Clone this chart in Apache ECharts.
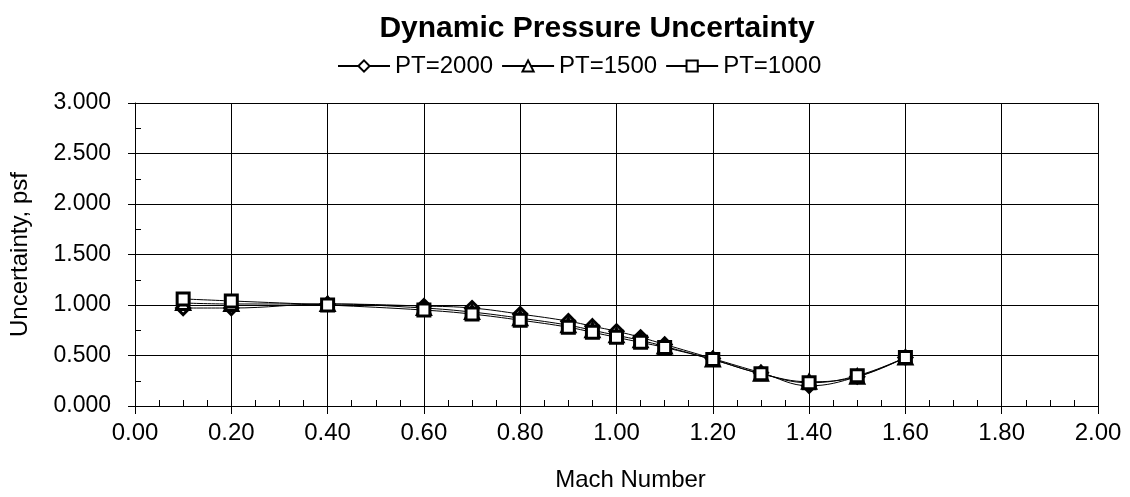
<!DOCTYPE html>
<html lang="en">

<head>
    <meta charset="UTF-8">
    <title>Dynamic Pressure Uncertainty</title>
    <script src="https://cdn.jsdelivr.net/npm/echarts@6/dist/echarts.min.js"></script>
    <style type="text/css">
        html, body { margin: 0; padding: 0; background: #fff; }
        #main { width: 1130px; height: 497px; }
    </style>
</head>

<body>
    <div id="main"></div>
    <script type="text/javascript">
    // Mach numbers tested
    var mach = [0.1, 0.2, 0.4, 0.6, 0.7, 0.8, 0.9, 0.95, 1.0, 1.05, 1.1, 1.2, 1.3, 1.4, 1.5, 1.6];
    // uncertainty, psf, per total pressure
    var pt2000 = [0.97, 0.97, 1.01, 0.99, 0.97, 0.91, 0.84, 0.79, 0.74, 0.68, 0.61, 0.47, 0.33, 0.20, 0.29, 0.48];
    var pt1500 = [1.02, 1.01, 1.01, 0.97, 0.93, 0.87, 0.80, 0.75, 0.70, 0.65, 0.59, 0.46, 0.32, 0.24, 0.29, 0.48];
    var pt1000 = [1.06, 1.04, 1.00, 0.95, 0.91, 0.85, 0.78, 0.73, 0.68, 0.63, 0.58, 0.46, 0.32, 0.23, 0.30, 0.48];
    var seriesNames = ['PT=2000', 'PT=1500', 'PT=1000'];
    var seriesSymbols = ['diamond', 'triangle', 'rect'];

    var font = 'Liberation Sans, Arial, sans-serif';

    function pairs(ys) {
        var out = [];
        for (var i = 0; i < mach.length; i++) {
            out.push([mach[i], ys[i]]);
        }
        return out;
    }

    function makeSeries(name, ys, symbol) {
        return {
            name: name,
            type: 'line',
            xAxisIndex: 0,
            yAxisIndex: 0,
            data: pairs(ys),
            smooth: 0.4,
            symbol: symbol,
            symbolSize: symbol == 'rect' ? 12 : 13,
            color: '#000',
            lineStyle: { color: '#000', width: 1 },
            itemStyle: { color: '#fff', borderColor: '#000', borderWidth: 3 }
        };
    }

    var myChart = echarts.init(document.getElementById('main'));

    var option = {
        backgroundColor: '#fff',
        animation: false,
        title: {
            text: 'Dynamic Pressure Uncertainty',
            left: 592,
            top: 9,
            textAlign: 'center',
            textStyle: { fontFamily: font, fontSize: 30, fontWeight: 'bold', color: '#000' }
        },
        legend: {
            data: seriesNames,
            left: 332,
            top: 49,
            itemWidth: 52,
            itemHeight: 14,
            itemGap: 8,
            textStyle: { fontFamily: font, fontSize: 24, color: '#000' }
        },
        grid: { left: 135, right: 32, top: 103, bottom: 89, containLabel: false },
        xAxis: [{
            type: 'value',
            min: 0,
            max: 2,
            interval: 0.2,
            name: 'Mach Number',
            nameLocation: 'middle',
            nameGap: 62,
            nameTextStyle: { fontFamily: font, fontSize: 24, color: '#000', padding: [0, 0, 0, 28] },
            axisLine: { show: true, lineStyle: { color: '#000', width: 1 } },
            axisTick: { show: true, inside: false, length: 8, lineStyle: { color: '#000' } },
            axisLabel: {
                fontFamily: font, fontSize: 24, color: '#000', margin: 15,
                formatter: function(v) { return v.toFixed(2); }
            },
            splitLine: { show: true, lineStyle: { color: '#000', width: 1 } }
        }, {
            // overlay only for the small inward ticks
            type: 'value',
            position: 'bottom',
            min: 0,
            max: 2,
            interval: 0.2,
            axisLine: { show: false },
            axisTick: { show: false, inside: true },
            minorTick: { show: true, splitNumber: 4, length: 6, lineStyle: { color: '#000' } },
            axisLabel: { show: false },
            splitLine: { show: false }
        }],
        yAxis: [{
            type: 'value',
            min: 0,
            max: 3,
            interval: 0.5,
            name: 'Uncertainty, psf',
            nameLocation: 'middle',
            nameGap: 103,
            nameTextStyle: { fontFamily: font, fontSize: 24, color: '#000' },
            axisLine: { show: true, lineStyle: { color: '#000', width: 1 } },
            axisTick: { show: true, inside: false, length: 7, lineStyle: { color: '#000' } },
            axisLabel: {
                fontFamily: font, fontSize: 23, color: '#000', margin: 24,
                formatter: function(v) { return v.toFixed(3); }
            },
            splitLine: { show: true, lineStyle: { color: '#000', width: 1 } }
        }, {
            type: 'value',
            position: 'left',
            min: 0,
            max: 3,
            interval: 0.5,
            axisLine: { show: false },
            axisTick: { show: false, inside: true },
            minorTick: { show: true, splitNumber: 2, length: 6, lineStyle: { color: '#000' } },
            axisLabel: { show: false },
            splitLine: { show: false }
        }],
        series: [
            makeSeries(seriesNames[0], pt2000, seriesSymbols[0]),
            makeSeries(seriesNames[1], pt1500, seriesSymbols[1]),
            makeSeries(seriesNames[2], pt1000, seriesSymbols[2])
        ]
    };

    myChart.setOption(option);
    </script>
</body>

</html>
